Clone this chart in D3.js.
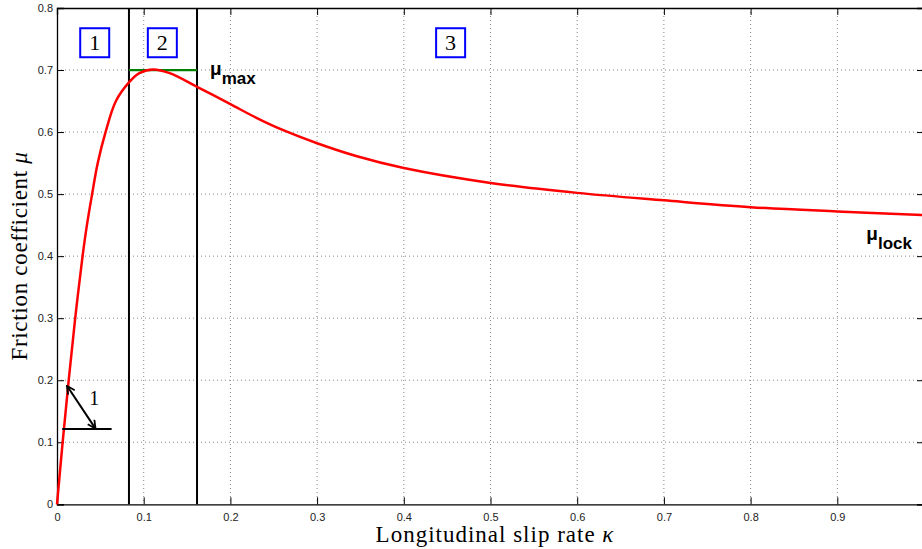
<!DOCTYPE html>
<html>
<head>
<meta charset="utf-8">
<script src="https://cdn.jsdelivr.net/npm/d3@7"></script>
<style>
  body { margin: 0; background: #fff; overflow: hidden; }
  svg { display: block; }
  .tick text { font-family: "Liberation Sans", Arial, sans-serif; font-size: 11px; fill: #222; }
</style>
</head>
<body>
<div id="viz"><svg></svg></div>
<script>
const fullWidth = 922;
const fullHeight = 549;

// slip rate kappa and friction coefficient mu
const kappa = [0, 0.0065, 0.0135, 0.021, 0.0295, 0.0345, 0.0405, 0.047, 0.056, 0.068, 0.083, 0.095, 0.111,
  0.130, 0.1615, 0.2, 0.23, 0.261, 0.3, 0.346, 0.4, 0.5, 0.6, 0.7, 0.8, 0.9, 1.0];
const mu = [0, 0.1, 0.2, 0.3, 0.4, 0.45, 0.5, 0.55, 0.6, 0.65, 0.68, 0.695, 0.701,
  0.695, 0.673, 0.645, 0.623, 0.603, 0.582, 0.561, 0.542, 0.518, 0.502, 0.49, 0.479, 0.472, 0.466];

const xTicks = [0, 0.1, 0.2, 0.3, 0.4, 0.5, 0.6, 0.7, 0.8, 0.9];
const yTicks = [0, 0.1, 0.2, 0.3, 0.4, 0.5, 0.6, 0.7, 0.8];

// region boundaries and peak
const regionBounds = [0.083, 0.1615];
const muMax = 0.7;
const regionLabels = ['1', '2', '3'];
const regionLabelX = [0.0435, 0.1215, 0.454];
const regionLabelY = 0.744;

// initial slope annotation
const slopeBase = { k0: 0.006, k1: 0.063, mu: 0.1215 };
const slopeArrow = [[0.0115, 0.191], [0.0444, 0.122]];

const margin = { top: 8, left: 57 },
  width = 867,
  height = 496.3;

const svg = d3.select('#viz svg')
  .attr('width', fullWidth)
  .attr('height', fullHeight);

const x = d3.scaleLinear().domain([0, 1]).range([0, width]);
const y = d3.scaleLinear().domain([0, 0.8]).range([height, 0]);

const g = svg.append('g')
  .attr('transform', `translate(${margin.left},${margin.top})`);

// dotted grid
g.append('g').selectAll('line')
  .data(xTicks.slice(1))
  .enter().append('line')
  .attr('x1', d => x(d)).attr('x2', d => x(d))
  .attr('y1', 0).attr('y2', height)
  .attr('stroke', '#888').attr('stroke-dasharray', '1,3');
g.append('g').selectAll('line')
  .data(yTicks.slice(1, -1))
  .enter().append('line')
  .attr('y1', d => y(d)).attr('y2', d => y(d))
  .attr('x1', 0).attr('x2', width)
  .attr('stroke', '#888').attr('stroke-dasharray', '1,3');

// axes with inward ticks
g.append('g')
  .attr('transform', `translate(0,${height})`)
  .call(d3.axisBottom(x).tickValues(xTicks).tickSize(-7).tickPadding(9).tickFormat(d3.format('~g')));
g.append('g')
  .call(d3.axisLeft(y).tickValues(yTicks).tickSize(-7).tickPadding(4).tickFormat(d3.format('~g')));
g.append('g')
  .call(d3.axisTop(x).tickValues(xTicks).tickSize(-7).tickFormat(''));
g.append('g')
  .attr('transform', `translate(${width},0)`)
  .call(d3.axisRight(y).tickValues(yTicks).tickSize(-7).tickFormat(''));
g.selectAll('.domain').attr('stroke', '#000').attr('stroke-width', 1.3);
g.selectAll('.tick line').attr('stroke', '#000');

// region boundaries
g.selectAll('.bound')
  .data(regionBounds)
  .enter().append('line')
  .attr('class', 'bound')
  .attr('x1', d => x(d)).attr('x2', d => x(d))
  .attr('y1', 0).attr('y2', height)
  .attr('stroke', '#000').attr('stroke-width', 2);

// mu max line
g.append('line')
  .attr('x1', x(regionBounds[0])).attr('x2', x(regionBounds[1]))
  .attr('y1', y(muMax)).attr('y2', y(muMax))
  .attr('stroke', '#008000').attr('stroke-width', 2.2);

// friction curve
const line = d3.line()
  .x((d, i) => x(kappa[i]))
  .y(d => y(d))
  .curve(d3.curveCatmullRom.alpha(0.5));
g.append('path')
  .attr('d', line(mu))
  .attr('fill', 'none')
  .attr('stroke', '#ff0000')
  .attr('stroke-width', 2.5);

// region label boxes
const boxes = g.selectAll('.region')
  .data(regionLabels)
  .enter().append('g')
  .attr('class', 'region')
  .attr('transform', (d, i) => `translate(${x(regionLabelX[i])},${y(regionLabelY)})`);
boxes.append('rect')
  .attr('x', -14.5).attr('y', -14.5)
  .attr('width', 29).attr('height', 29)
  .attr('fill', '#fff').attr('stroke', '#0000ff').attr('stroke-width', 2);
boxes.append('text')
  .attr('text-anchor', 'middle')
  .attr('y', 7.5)
  .style('font-family', '"Liberation Serif", serif')
  .style('font-size', '22px')
  .text(d => d);

// slope annotation
svg.append('defs').append('marker')
  .attr('id', 'head')
  .attr('viewBox', '0 0 10 10')
  .attr('refX', 9).attr('refY', 5)
  .attr('markerWidth', 10).attr('markerHeight', 10)
  .attr('markerUnits', 'userSpaceOnUse')
  .attr('orient', 'auto-start-reverse')
  .append('path')
  .attr('d', 'M1,1 L9,5 L1,9')
  .attr('fill', 'none').attr('stroke', '#000').attr('stroke-width', 1.8);

g.append('line')
  .attr('x1', x(slopeBase.k0)).attr('x2', x(slopeBase.k1))
  .attr('y1', y(slopeBase.mu)).attr('y2', y(slopeBase.mu))
  .attr('stroke', '#000').attr('stroke-width', 2);
g.append('line')
  .attr('x1', x(slopeArrow[0][0])).attr('y1', y(slopeArrow[0][1]))
  .attr('x2', x(slopeArrow[1][0])).attr('y2', y(slopeArrow[1][1]))
  .attr('stroke', '#000').attr('stroke-width', 2)
  .attr('marker-start', 'url(#head)').attr('marker-end', 'url(#head)');
g.append('text')
  .attr('x', x(0.043)).attr('y', y(0.16))
  .attr('text-anchor', 'middle')
  .style('font-family', '"Liberation Serif", serif')
  .style('font-size', '20px')
  .text('1');

// mu max / mu lock labels
function muLabel(px, py, sub) {
  const t = g.append('text')
    .attr('x', px).attr('y', py)
    .style('font-family', '"Liberation Sans", Arial, sans-serif')
    .style('font-weight', 'bold')
    .style('font-size', '19px');
  t.append('tspan').text('μ');
  t.append('tspan').attr('dy', 9).style('font-size', '17px').text(sub);
}
muLabel(x(0.1765), y(0.692), 'max');
muLabel(x(0.9335), y(0.426), 'lock');

// axis titles
svg.append('text')
  .attr('x', 495).attr('y', 542)
  .attr('text-anchor', 'middle')
  .style('font-family', '"Liberation Serif", serif')
  .style('font-size', '23px')
  .style('letter-spacing', '1px')
  .html('Longitudinal slip rate <tspan font-style="italic">κ</tspan>');
svg.append('text')
  .attr('transform', 'translate(27,256) rotate(-90)')
  .attr('text-anchor', 'middle')
  .style('font-family', '"Liberation Serif", serif')
  .style('font-size', '23px')
  .style('letter-spacing', '0.7px')
  .html('Friction coefficient <tspan font-style="italic">μ</tspan>');
</script>
</body>
</html>
